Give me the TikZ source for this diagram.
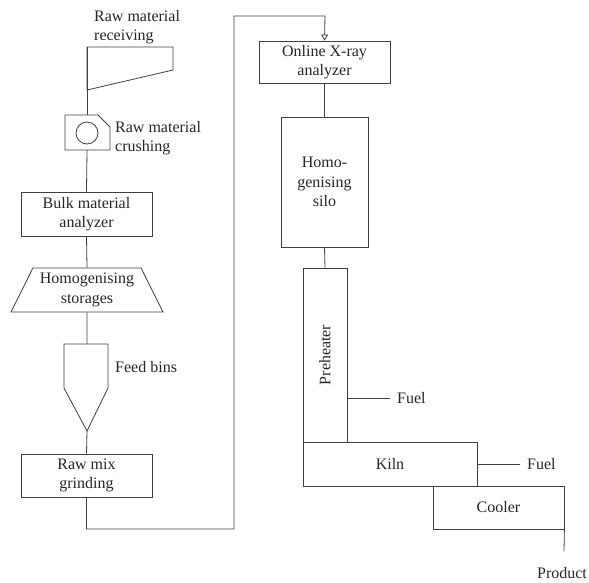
\documentclass[tikz,border=0pt]{standalone}
\usepackage{fontspec}
\setmainfont{Liberation Serif}
\usetikzlibrary{shapes.geometric,arrows.meta}
\begin{document}
\begin{tikzpicture}[x=1pt,y=-1pt,
  every node/.style={font=\fontsize{16}{19.5}\selectfont, text=black!85, inner sep=0pt},
  ln/.style={draw=black!75, line width=0.8pt},
  boxn/.style={ln, rectangle, align=center},
  lbl/.style={align=left, anchor=west}]
\useasboundingbox (0,0) rectangle (589,582);
% hopper
\coordinate (hopTop) at (87,47);
\draw[ln] (173,70) -- (173,47) -- (hopTop) -- (87,90) -- cycle;
\node[lbl] (lrecv) at (94,27) {Raw material\\receiving};
% crusher
\coordinate (crTop) at (87,115);
\coordinate (crBot) at (87,150);
\draw[ln] (65,115) -- (98,115) -- (110,127) -- (110,150) -- (65,150) -- cycle;
\draw[ln] (87,133) circle (11);
\node[lbl] (lcrush) at (115,138) {Raw material\\crushing};
\draw[ln] (hopTop) -- (crTop);
% bulk
\node[boxn, minimum width=131, minimum height=44] (bulk) at (86.5,214) {Bulk material\\analyzer};
\draw[ln] (crBot) -- (bulk.north);
% trapezium
\node[ln, trapezium, trapezium stretches=true, trapezium angle=60.4, minimum width=152, minimum height=44, align=center] (store) at (87,290) {Homogenising\\storages};
\draw[ln] (bulk.south) -- (store.north);
% feed bins
\coordinate (fbTop) at (87,344);
\coordinate (fbTip) at (87,431);
\draw[ln] (64,344) -- (108,344) -- (108,388) -- (fbTip) -- (64,388) -- cycle;
\node[lbl] (lfeed) at (115,367) {Feed bins};
\draw[ln] (store.south) -- (fbTop);
% raw mix
\node[boxn, minimum width=131, minimum height=43] (rawmix) at (86.5,475.5) {Raw mix\\grinding};
\draw[ln] (fbTip) -- (rawmix.north);
% xray
\node[boxn, minimum width=131, minimum height=42] (xray) at (324.5,62) {Online X-ray\\analyzer};
\coordinate (c1) at (234,529);
\coordinate (c2) at (325,16);
\draw[ln, -{Triangle[open,length=6pt,width=7pt]}] (rawmix.south) |- (c1) |- (c2) -- (xray.north);
% silo
\node[boxn, minimum width=87, minimum height=130] (silo) at (324.5,182) {Homo-\\genising\\silo};
\draw[ln] (xray.south) -- (silo.north);
% preheater
\node[boxn, minimum width=44, minimum height=174] (pre) at (325,355) {};
\node[rotate=90] (lpre) at (pre.center) {Preheater};
\draw[ln] (silo.south) -- (pre.north);
% kiln
\node[boxn, minimum width=174, minimum height=44] (kiln) at (390,464) {Kiln};
% cooler
\node[boxn, minimum width=131, minimum height=43] (cool) at (498.5,507.5) {Cooler};
% fuels
\coordinate (f1a) at (347,398);
\coordinate (f1b) at (390,398);
\node[anchor=west] (fuel1) at (397,398) {Fuel};
\draw[ln] (f1a) -- (f1b);
\coordinate (f2b) at (520,464);
\node[anchor=west] (fuel2) at (527,464) {Fuel};
\draw[ln] (kiln.east) -- (f2b);
% product
\coordinate (pr) at (564,551);
\node (prod) at (562,573) {Product};
\draw[ln] (cool.south east) -- (pr);
\end{tikzpicture}
\end{document}
